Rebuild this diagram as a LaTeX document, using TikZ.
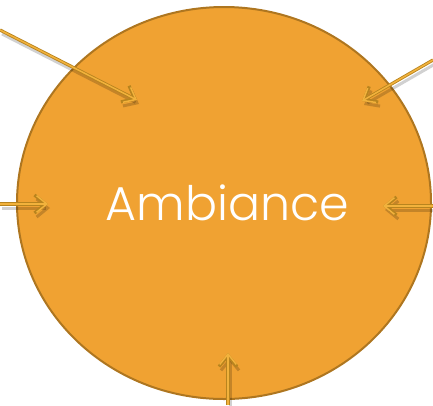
\documentclass[tikz,border=0pt]{standalone}
\usepackage{fontspec}
\setmainfont{Poppins Light}
\usetikzlibrary{arrows.meta,shapes.geometric}
\definecolor{circfill}{HTML}{F0A232}
\definecolor{circedge}{HTML}{AE7620}
\definecolor{arrdark}{HTML}{B8841E}
\definecolor{arrlight}{HTML}{F2B23C}
\tikzset{
  arrshadow/.style={line width=3pt, draw=black, opacity=0.18, -{Straight Barb[length=11pt,width=18pt]}},
  arrout/.style={line width=3.2pt, draw=arrdark, -{Straight Barb[length=11pt,width=18pt]}},
  arrin/.style={line width=1.5pt, draw=arrlight, -{Straight Barb[length=10.2pt,width=16.6pt]}},
}
\begin{document}
\begin{tikzpicture}[x=1pt,y=-1pt]
\useasboundingbox (0,0) rectangle (433,405);
\node[ellipse, draw=circedge, line width=2pt, fill=circfill,
      minimum width=414pt, minimum height=392pt, inner sep=0pt] (c) at (224,203) {};
\node[text=white, font=\fontsize{47.5}{47.5}\selectfont] (t) at (227.5,203) {Ambiance};
% arrow endpoints
\coordinate (s1) at (0,30);    \coordinate (e1) at (137,100);
\coordinate (s2) at (433,60);  \coordinate (e2) at (362,101);
\coordinate (s3) at (0,204);   \coordinate (e3) at (48,204);
\coordinate (s4) at (433,206); \coordinate (e4) at (383,206);
\coordinate (s5) at (228,405); \coordinate (e5) at (228,353);
\foreach \a in {1,...,5}{
  \draw[arrshadow, transform canvas={shift={(2pt,-4pt)}}] (s\a) -- (e\a);
}
\foreach \a in {1,...,5}{
  \draw[arrout] (s\a) -- (e\a);
  \draw[arrin] (s\a) -- (e\a);
}
\end{tikzpicture}
\end{document}
